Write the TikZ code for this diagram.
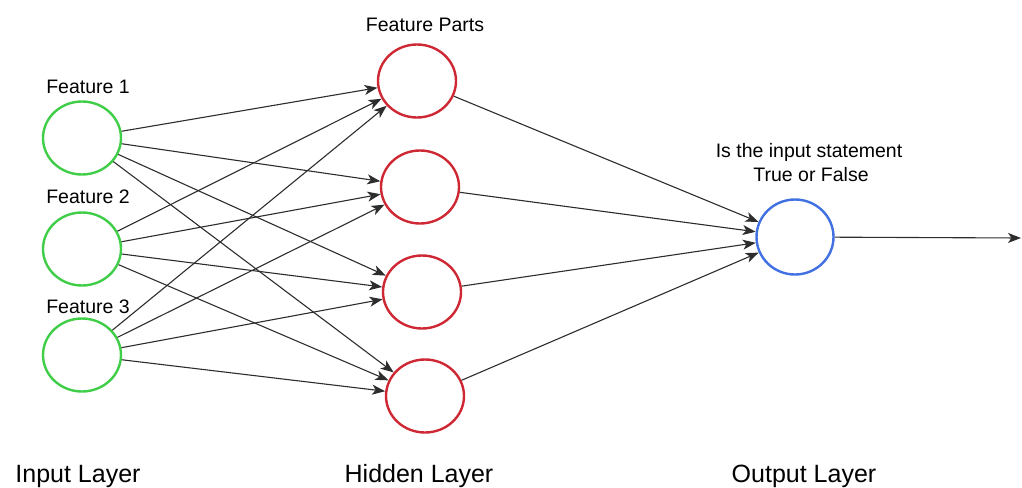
\documentclass[tikz,border=0pt]{standalone}
\usepackage{fontspec}
\setmainfont{Liberation Sans}
\usetikzlibrary{arrows.meta,shapes.geometric}

\definecolor{ingreen}{RGB}{64,206,72}
\definecolor{hidred}{RGB}{206,40,52}
\definecolor{outblue}{RGB}{64,112,226}
\definecolor{wire}{RGB}{45,45,45}

\tikzset{
  neuron/.style={ellipse, draw, line width=2.4pt, fill=white,
                 minimum width=78pt, minimum height=73pt, inner sep=0pt},
  inp/.style={neuron, draw=ingreen},
  hid/.style={neuron, draw=hidred},
  outp/.style={neuron, draw=outblue, minimum width=77pt, minimum height=75pt},
  lbl/.style={anchor=base, font=\fontsize{19.5}{22}\selectfont},
  layer/.style={anchor=base, font=\fontsize{25}{28}\selectfont},
  link/.style={draw=wire, line width=1.1pt,
               -{Stealth[length=13pt,width=10pt,inset=3.5pt]}}
}

\begin{document}
\begin{tikzpicture}[x=1pt,y=-1pt,every edge/.style={link}]
  \useasboundingbox (0,0) rectangle (1022,487);

                  \node[inp]  	(i1) at (82,138)  {};
                  \node[inp]	(i2) at (82,249)  {};
                  \node[inp] 	(i3) at (82,355)  {};
                  \node[hid] 	(h1) at (417,81)  {};
                  \node[hid]	(h2) at (420,187) {};
                  \node[hid]	(h3) at (422,292) {};
                  \node[hid]	(h4) at (425,396) {};
                  \node[outp]	(o)  at (795,237) {};
                  \coordinate   (end) at (1021,238);

                  \node[lbl] (l1) at (88,93)   {Feature 1};
                  \node[lbl] (l2) at (88,203)  {Feature 2};
                  \node[lbl] (l3) at (88,313)  {Feature 3};
                  \node[lbl] (lp) at (425,32)  {Feature Parts};
                  \node[lbl] (lq) at (809,157) {Is the input statement};
                  \node[lbl] (lt) at (811,181) {True or False};

                  \node[layer] (li) at (78,482)  {Input Layer};
                  \node[layer] (lh) at (419,482) {Hidden Layer};
                  \node[layer] (lo) at (804,482) {Output Layer};

                      \path
                               (i1) edge (h1)
                                    edge (h2)
                                    edge (h3)
                                    edge (h4)
                               (i2) edge (h1)
                                    edge (h2)
                                    edge (h3)
                                    edge (h4)
                               (i3) edge (h1)
                                    edge (h2)
                                    edge (h3)
                                    edge (h4)
                               (h1) edge (o)
                               (h2) edge (o)
                               (h3) edge (o)
                               (h4) edge (o)
                               (o)  edge (end);
        \end{tikzpicture}
\end{document}
